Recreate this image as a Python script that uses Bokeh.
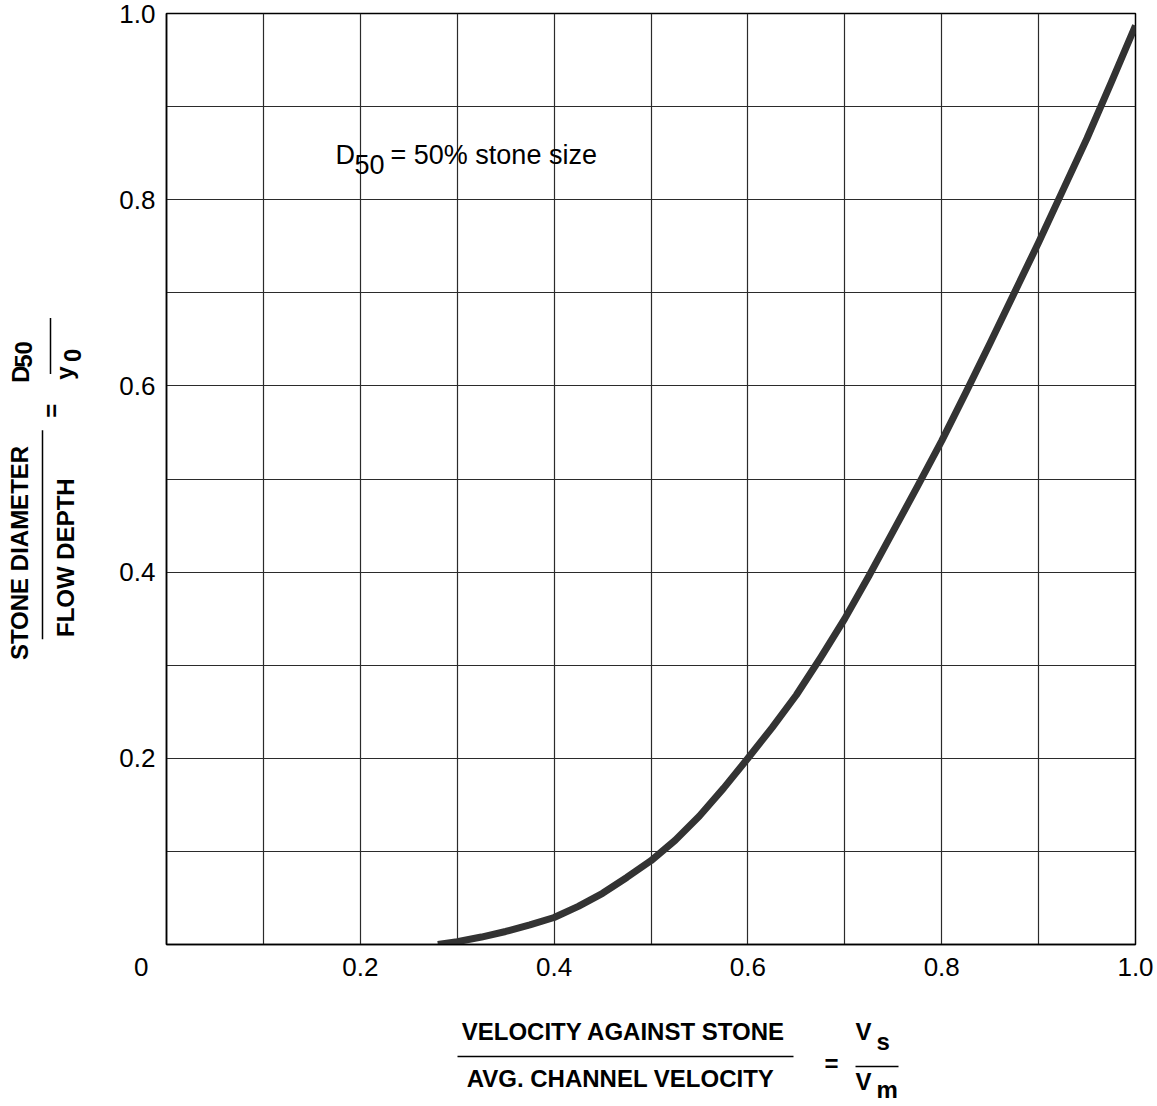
from bokeh.plotting import figure
from bokeh.models import FixedTicker, Label, Range1d
from bokeh.layouts import column, row
from bokeh.embed import file_html
from bokeh.resources import INLINE
import math

# ---- data ----
velocity_ratio = [0.28, 0.30, 0.325, 0.35, 0.375, 0.40, 0.425, 0.45, 0.475, 0.50,
                  0.525, 0.55, 0.575, 0.60, 0.625, 0.65, 0.675, 0.70, 0.725, 0.75,
                  0.775, 0.80, 0.825, 0.85, 0.875, 0.90, 0.925, 0.95, 0.975, 1.00]
diameter_ratio = [0.000, 0.003, 0.008, 0.014, 0.021, 0.029, 0.041, 0.055, 0.072, 0.090,
                  0.112, 0.138, 0.168, 0.200, 0.233, 0.268, 0.308, 0.350, 0.396, 0.444,
                  0.492, 0.541, 0.593, 0.646, 0.700, 0.754, 0.810, 0.866, 0.926, 0.987]

axis_ticks = [0.0, 0.2, 0.4, 0.6, 0.8, 1.0]
x_tick_labels = ["0\u00a0\u00a0\u00a0\u00a0\u00a0\u00a0\u00a0", "0.2", "0.4", "0.6", "0.8", "1.0"]
y_tick_labels = ["", "0.2", "0.4", "0.6", "0.8", "1.0"]
grid_ticks = [0.0, 0.1, 0.2, 0.3, 0.4, 0.5, 0.6, 0.7, 0.8, 0.9, 1.0]

note_text = "= 50% stone size"
x_title_top = "VELOCITY AGAINST STONE"
x_title_bottom = "AVG. CHANNEL VELOCITY"
y_title_top = "STONE DIAMETER"
y_title_bottom = "FLOW DEPTH"

FONT = "Liberation Sans"
W, H = 1157, 1106
LEFT_W = 100
MAIN_H = 994

# ---------------- main chart ----------------
p = figure(width=W - LEFT_W, height=MAIN_H, output_backend="svg", toolbar_location=None,
           x_range=Range1d(0, 1.0), y_range=Range1d(0, 1.0),
           min_border_left=166 - LEFT_W, min_border_right=22,
           min_border_top=13, min_border_bottom=MAIN_H - 944)
p.background_fill_color = "white"
p.border_fill_color = "white"
p.outline_line_color = "black"
p.outline_line_width = 1.5

for ax, labels in ((p.xaxis[0], x_tick_labels), (p.yaxis[0], y_tick_labels)):
    ax.ticker = FixedTicker(ticks=axis_ticks)
    ax.major_label_overrides = {t: l for t, l in zip(axis_ticks, labels)}
    ax.major_tick_out = 0
    ax.major_tick_in = 0
    ax.minor_tick_out = 0
    ax.minor_tick_in = 0
    ax.axis_line_color = "black"
    ax.axis_line_width = 1.5
    ax.major_label_text_font = FONT
    ax.major_label_text_font_size = "26px"
    ax.major_label_text_color = "black"
p.xaxis.major_label_standoff = 7
p.yaxis.major_label_standoff = 11

for g in (p.xgrid[0], p.ygrid[0]):
    g.ticker = FixedTicker(ticks=grid_ticks)
    g.grid_line_color = "#2b2b2b"
    g.grid_line_width = 1.2

p.line(velocity_ratio, diameter_ratio, line_width=7, line_color="#333333",
       line_join="round")

def lab(fig, x, y, text, size, bold=False, align="left", baseline="alphabetic", angle=0.0):
    fig.add_layout(Label(x=x, y=y, text=text, text_font=FONT, text_font_size=size,
                         text_font_style="bold" if bold else "normal",
                         text_align=align, text_baseline=baseline, angle=angle,
                         text_color="black"))

# in-plot note (data units)
lab(p, 0.1744, 0.8475, "D", "27px")
lab(p, 0.1940, 0.8378, "50", "27px")
lab(p, 0.2312, 0.8475, note_text, "27px")

def blank(width, height, xr, yr):
    f = figure(width=width, height=height, output_backend="svg", toolbar_location=None,
               x_range=xr, y_range=yr, x_axis_location=None, y_axis_location=None,
               min_border=0, min_border_left=0, min_border_right=0,
               min_border_top=0, min_border_bottom=0)
    f.outline_line_color = None
    f.xgrid.visible = False
    f.ygrid.visible = False
    f.background_fill_color = "white"
    f.border_fill_color = "white"
    return f

# ---------------- y-axis title panel (page pixel coordinates, y downwards) ----------------
L = blank(LEFT_W, MAIN_H, Range1d(0, LEFT_W), Range1d(MAIN_H, 0))
R = math.pi / 2
TB = "24px"
lab(L, 19, 576, y_title_top, TB, bold=True, align="center", angle=R)
L.line([42, 42], [445, 668], line_color="black", line_width=1.5)
lab(L, 65, 581, y_title_bottom, TB, bold=True, align="center", angle=R)
lab(L, 51, 424, "=", TB, bold=True, align="center", baseline="middle", angle=R)
lab(L, 20, 385, "D", TB, bold=True, align="center", angle=R)
lab(L, 23, 364, "50", TB, bold=True, align="center", angle=R)
L.line([50, 50], [325, 385], line_color="black", line_width=1.5)
lab(L, 64, 384, "y", TB, bold=True, align="center", angle=R)
lab(L, 72, 365, "0", TB, bold=True, align="center", angle=R)

# ---------------- x-axis title panel ----------------
B = blank(W, H - MAIN_H, Range1d(0, W), Range1d(H, MAIN_H))
lab(B, 623, 1031, x_title_top, TB, bold=True, align="center")
B.line([457, 793], [1056, 1056], line_color="black", line_width=1.5)
lab(B, 620, 1078, x_title_bottom, TB, bold=True, align="center")
lab(B, 831, 1063, "=", TB, bold=True, align="center", baseline="middle")
lab(B, 855, 1031, "V", TB, bold=True)
lab(B, 876, 1041, "s", TB, bold=True)
B.line([855, 898], [1066, 1066], line_color="black", line_width=1.5)
lab(B, 855, 1081, "V", TB, bold=True)
lab(B, 876, 1089, "m", TB, bold=True)

layout = column(row(L, p, spacing=0), B, spacing=0)
open("out.html", "w").write(file_html(layout, INLINE))
